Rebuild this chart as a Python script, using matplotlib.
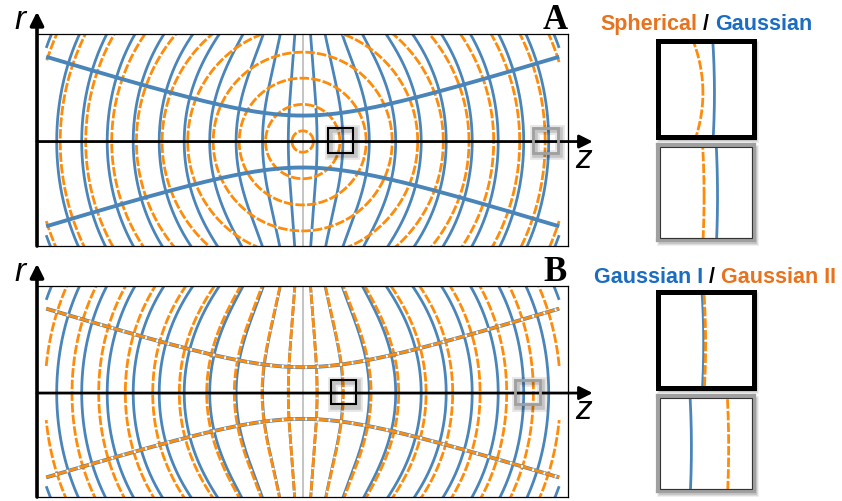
import matplotlib
matplotlib.use("Agg")
import matplotlib.pyplot as plt
import matplotlib.patheffects as pe
from matplotlib.patches import Rectangle
import numpy as np

# wavefront crossings on the axis (z > 0 side, mirrored)
gauss_I_z = [14.4, 40.2, 66.6, 93.0, 118.5, 143.5, 169.5, 195.5, 221.0, 246.0, 272.0]
spherical_radius = [10.7, 37.2, 63.5, 89.5, 115.0, 140.6, 166.3, 191.0, 217.0, 242.5, 268.5]
gauss_II_z = [14.4, 40.7, 68.4, 96.0, 123.4, 150.0, 177.4, 204.0, 230.7, 257.8]

# beam parameters (same units)
waist = 26.0
rayleigh = 82.5
z_extent = 256.5

# small zoom squares (z, r centre) for each panel
zoom_A = [(38.0, 1.0), (243.0, 1.0)]
zoom_B = [(40.8, 1.0), (224.8, 1.0)]
zoom_half = 12.5

BLUE = "#4a85ba"
ORANGE = "#fe8c0a"
TXT_BLUE = "#1b6dc1"
TXT_ORANGE = "#e8731f"

W, H = 842, 502
XLIM = (-265.7, 265.3)
YLIM = (-104.6, 107.7)
r_grid = np.linspace(-110, 110, 801)


def gauss_front(level):
    z = np.full_like(r_grid, level)
    for _ in range(80):
        z = level / (1 + r_grid**2 / (2 * (z**2 + rayleigh**2)))
    z = np.where(np.abs(z) <= z_extent, z, np.nan)
    return z, r_grid


def sphere_front(rho):
    t = np.linspace(0, 2 * np.pi, 1441)
    z = rho * np.cos(t)
    r = rho * np.sin(t)
    z = np.where(np.abs(z) <= z_extent, z, np.nan)
    return z, r


def envelope():
    z = np.linspace(-z_extent, z_extent, 400)
    w = waist * np.sqrt(1 + (z / rayleigh) ** 2)
    return z, w


def solid(ax, z, r, lw=2.0):
    ax.plot(z, r, color=BLUE, lw=lw, solid_capstyle="butt")


def dashed(ax, z, r, lw=2.0):
    ax.plot(z, r, color=ORANGE, lw=lw, ls=(0, (3.4, 0.8)), gapcolor="white",
            dash_capstyle="butt")


def draw_fronts(ax, panel):
    ax.axvline(0, color="#b4b4b4", lw=1.1, zorder=0)
    for L in gauss_I_z:
        for s in (-1, 1):
            solid(ax, *gauss_front(s * L))
    if panel == "A":
        for rho in spherical_radius:
            dashed(ax, *sphere_front(rho))
    else:
        for L in gauss_II_z:
            for s in (-1, 1):
                dashed(ax, *gauss_front(s * L))
    z, w = envelope()
    for s in (-1, 1):
        solid(ax, z, s * w, lw=2.8)
        if panel == "B":
            dashed(ax, z, s * w, lw=2.0)


def px_axes(fig, x0, y0, x1, y1):
    return fig.add_axes([x0 / W, 1 - y1 / H, (x1 - x0) / W, (y1 - y0) / H])


def soft_shadow(fig, x0, y0, x1, y1):
    for grow, a in [(3, 0.06), (2, 0.08), (1, 0.10)]:
        fig.patches.append(Rectangle(((x0 + 2 - grow) / W, 1 - (y1 + 3 + grow) / H),
                                     (x1 - x0 + 2 * grow) / W, (y1 - y0 + 2 * grow) / H,
                                     transform=fig.transFigure, fc="k", ec="none",
                                     alpha=a, zorder=-1))


fig = plt.figure(figsize=(W / 100, H / 100), dpi=100)
square_shadow = [pe.SimpleLineShadow(offset=(1.5, -1.5), shadow_color="k", alpha=0.10, linewidth=7),
                 pe.SimpleLineShadow(offset=(1.5, -1.5), shadow_color="k", alpha=0.14, linewidth=4),
                 pe.Normal()]

panels = [("A", 35, 247, zoom_A, [(42, 138), (146, 241)]),
          ("B", 287, 498, zoom_B, [(293, 389), (397, 492)])]

for name, top, bottom, boxes, inset_rows in panels:
    ax = px_axes(fig, 37, top, 568, bottom)
    ax.set_xlim(XLIM)
    ax.set_ylim(YLIM)
    ax.set_xticks([])
    ax.set_yticks([])
    for sp in ax.spines.values():
        sp.set_linewidth(0.9)
    draw_fronts(ax, name)

    # axes arrows
    ax.annotate("", xy=(290, 0), xytext=(XLIM[0], 0), annotation_clip=False,
                arrowprops=dict(arrowstyle="-|>", lw=2.0, color="k", mutation_scale=20,
                                shrinkA=0, shrinkB=0))
    ax.annotate("", xy=(XLIM[0], 130), xytext=(XLIM[0], YLIM[0]), annotation_clip=False,
                arrowprops=dict(arrowstyle="-|>", lw=2.6, color="k", mutation_scale=20,
                                shrinkA=0, shrinkB=0))
    ax.text(-283, 122, "r", fontsize=24, style="italic", family="Liberation Sans",
            ha="center", va="center", clip_on=False)
    ax.text(281, -17, "z", fontsize=24, style="italic", family="Liberation Sans",
            ha="center", va="center", clip_on=False)
    ax.text(252, 122, name, fontsize=25, weight="bold", family="Liberation Serif",
            ha="center", va="center", clip_on=False)

    # zoom squares and their magnified insets
    for (zc, rc), (y0, y1), col, lw in zip(boxes, inset_rows, ["k", "#a0a0a0"], [3.6, 3.0]):
        sq = Rectangle((zc - zoom_half, rc - zoom_half), 2 * zoom_half, 2 * zoom_half,
                       fill=False, ec=col, lw=1.5 if col == "k" else 2.0, zorder=5)
        sq.set_path_effects(square_shadow)
        ax.add_patch(sq)

        soft_shadow(fig, 658, y0, 754, y1)
        ins = px_axes(fig, 658, y0, 754, y1)
        ins.set_xlim(zc - zoom_half, zc + zoom_half)
        ins.set_ylim(rc - zoom_half, rc + zoom_half)
        ins.set_xticks([])
        ins.set_yticks([])
        draw_fronts(ins, name)
        for sp in ins.spines.values():
            sp.set_color(col)
            sp.set_linewidth(lw)
        if col != "k":
            ins.add_patch(Rectangle((0.02, 0.02), 0.96, 0.96, transform=ins.transAxes,
                                    fill=False, ec="#333333", lw=0.8, zorder=6))

# coloured legend titles, pieces laid out side by side on one baseline
renderer = fig.canvas.get_renderer()


def title_row(parts, x, y):
    for txt, col in parts:
        t = fig.text(x / W, 1 - y / H, txt, fontsize=15.5, weight="bold",
                     family="Liberation Sans", color=col, va="baseline", ha="left")
        x += t.get_window_extent(renderer).width


title_row([("Spherical", TXT_ORANGE), (" / ", "k"), ("Gaussian", TXT_BLUE)], 600, 30)
title_row([("Gaussian I", TXT_BLUE), (" / ", "k"), ("Gaussian II", TXT_ORANGE)], 594, 283)

fig.savefig("out.png", dpi=100)
